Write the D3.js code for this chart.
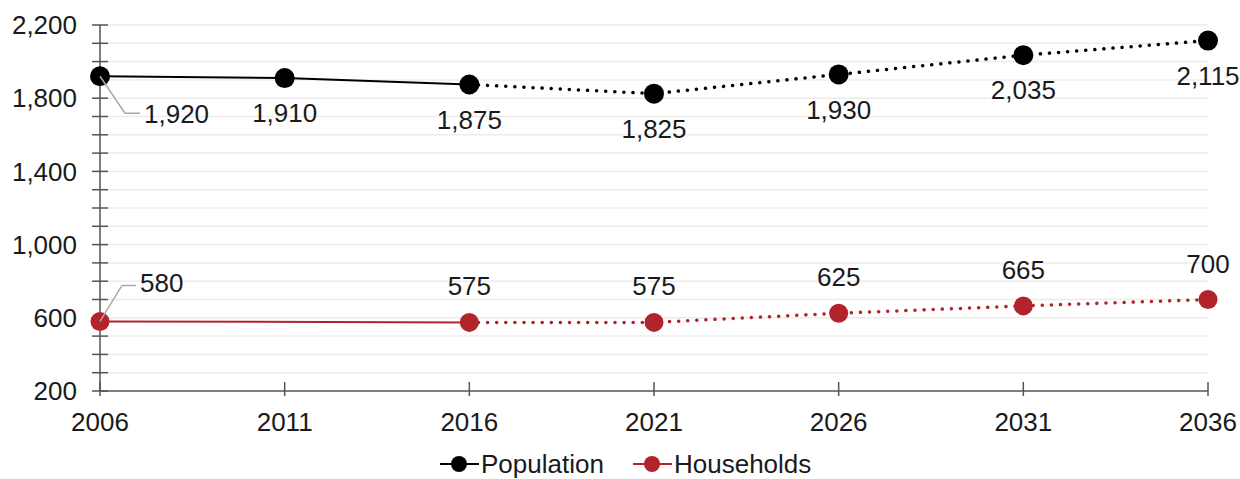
<!DOCTYPE html>
<html>
<head>
<meta charset="utf-8">
<script src="https://cdn.jsdelivr.net/npm/d3@7.9.0/dist/d3.min.js"></script>
<style>
  body { margin: 0; background: #fff; }
  svg text { font-family: Arial, "Liberation Sans", sans-serif; fill: #1a1a1a; }
</style>
</head>
<body>
<svg id="chart" width="1240" height="479"></svg>
<script>
const years = [2006, 2011, 2016, 2021, 2026, 2031, 2036];
const population = [1920, 1910, 1875, 1825, 1930, 2035, 2115];
const households = [580, null, 575, 575, 625, 665, 700];
const yTicks = [200, 600, 1000, 1400, 1800, 2200];
const lastActual = 2016;

const svg = d3.select('#chart');
const x = d3.scaleLinear().domain([2006, 2036]).range([100, 1208]);
const y = d3.scaleLinear().domain([200, 2200]).range([391, 25]);
const fmt = d3.format(',');
const fs = 26;

// minor gridlines every 100
const minor = d3.range(300, 2201, 100);
svg.append('g').selectAll('line').data(minor).join('line')
  .attr('x1', x(2006)).attr('x2', x(2036))
  .attr('y1', d => y(d)).attr('y2', d => y(d))
  .attr('stroke', '#ececec').attr('stroke-width', 1.5);

// y axis
const yAxis = svg.append('g').attr('transform', `translate(${x(2006)},0)`);
yAxis.append('line').attr('y1', y(2200)).attr('y2', y(200))
  .attr('stroke', '#555').attr('stroke-width', 1.5);
yAxis.selectAll('.tk').data(d3.range(200, 2201, 100)).join('line')
  .attr('x1', -8).attr('x2', 8)
  .attr('y1', d => y(d)).attr('y2', d => y(d))
  .attr('stroke', '#555').attr('stroke-width', 1.5);
yAxis.selectAll('text').data(yTicks).join('text')
  .attr('x', -23).attr('y', d => y(d)).attr('dy', '0.35em')
  .attr('text-anchor', 'end').attr('font-size', fs)
  .text(d => fmt(d));

// x axis
const xAxis = svg.append('g').attr('transform', `translate(0,${y(200)})`);
xAxis.append('line').attr('x1', x(2006)).attr('x2', x(2036))
  .attr('stroke', '#555').attr('stroke-width', 1.5);
xAxis.selectAll('.tk').data(years).join('line')
  .attr('x1', d => x(d)).attr('x2', d => x(d))
  .attr('y1', -9).attr('y2', 5)
  .attr('stroke', '#555').attr('stroke-width', 1.5);
xAxis.selectAll('text').data(years).join('text')
  .attr('x', d => x(d)).attr('y', 31).attr('dy', '0.35em')
  .attr('text-anchor', 'middle').attr('font-size', fs)
  .text(d => d);

function drawSeries(values, color, r) {
  const pts = years.map((yr, i) => ({ yr, v: values[i] })).filter(d => d.v != null);
  const line = d3.line().x(d => x(d.yr)).y(d => y(d.v));
  const solid = pts.filter(d => d.yr <= lastActual);
  const dotted = pts.filter(d => d.yr >= lastActual);
  svg.append('path').attr('d', line(solid))
    .attr('fill', 'none').attr('stroke', color).attr('stroke-width', 2);
  svg.append('path').attr('d', line(dotted))
    .attr('fill', 'none').attr('stroke', color).attr('stroke-width', 3.5)
    .attr('stroke-linecap', 'round').attr('stroke-dasharray', '0.1 9');
  svg.append('g').selectAll('circle').data(pts).join('circle')
    .attr('cx', d => x(d.yr)).attr('cy', d => y(d.v)).attr('r', r)
    .attr('fill', color);
  return pts;
}

const popPts = drawSeries(population, '#000', 10);
const hhPts = drawSeries(households, '#b1242c', 9.5);

// population labels (below)
svg.append('g').selectAll('text').data(popPts.slice(1)).join('text')
  .attr('x', d => x(d.yr)).attr('y', d => y(d.v) + 35).attr('dy', '0.35em')
  .attr('text-anchor', 'middle').attr('font-size', fs)
  .text(d => fmt(d.v));
// households labels (above)
svg.append('g').selectAll('text').data(hhPts.slice(1)).join('text')
  .attr('x', d => x(d.yr)).attr('y', d => y(d.v) - 36).attr('dy', '0.35em')
  .attr('text-anchor', 'middle').attr('font-size', fs)
  .text(d => fmt(d.v));

// first-point labels with leader lines
const p0 = popPts[0], h0 = hhPts[0];
svg.append('polyline')
  .attr('points', `${x(p0.yr)},${y(p0.v)} ${x(p0.yr) + 25},${y(p0.v) + 37} ${x(p0.yr) + 40},${y(p0.v) + 37}`)
  .attr('fill', 'none').attr('stroke', '#aaa').attr('stroke-width', 1.5);
svg.append('text').attr('x', x(p0.yr) + 44).attr('y', y(p0.v) + 38).attr('dy', '0.35em')
  .attr('font-size', fs).text(fmt(p0.v));
svg.append('polyline')
  .attr('points', `${x(h0.yr)},${y(h0.v)} ${x(h0.yr) + 22},${y(h0.v) - 36} ${x(h0.yr) + 36},${y(h0.v) - 36}`)
  .attr('fill', 'none').attr('stroke', '#aaa').attr('stroke-width', 1.5);
svg.append('text').attr('x', x(h0.yr) + 40).attr('y', y(h0.v) - 39).attr('dy', '0.35em')
  .attr('font-size', fs).text(fmt(h0.v));

// legend
const legendItems = [
  { name: 'Population', color: '#000', x0: 440 },
  { name: 'Households', color: '#b1242c', x0: 633 }
];
const lg = svg.append('g').attr('transform', 'translate(0,464)');
legendItems.forEach(d => {
  lg.append('line').attr('x1', d.x0).attr('x2', d.x0 + 39)
    .attr('stroke', d.color).attr('stroke-width', 2);
  lg.append('circle').attr('cx', d.x0 + 19).attr('r', 8).attr('fill', d.color);
  lg.append('text').attr('x', d.x0 + 41).attr('dy', '0.35em')
    .attr('font-size', fs).text(d.name);
});
</script>
</body>
</html>
